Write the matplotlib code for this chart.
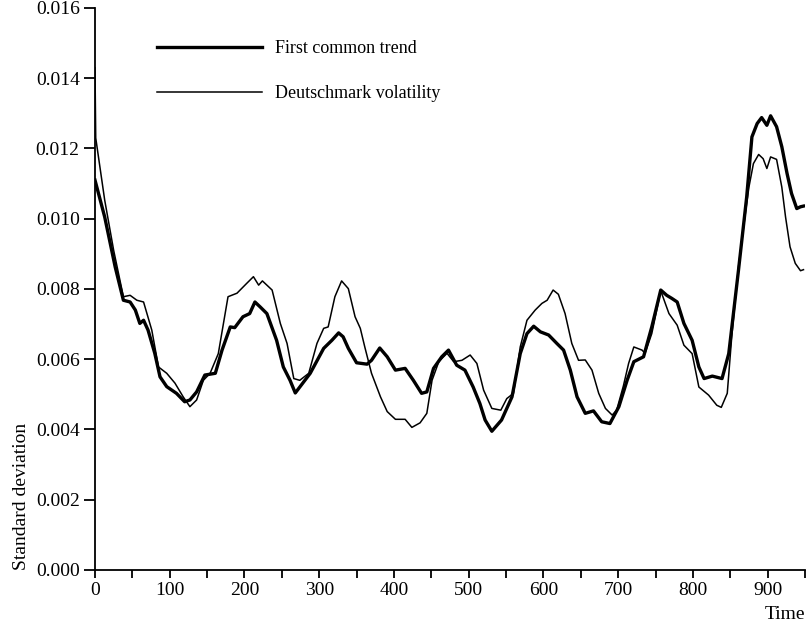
import matplotlib.pyplot as plt
import numpy as np

plt.rcParams['font.family'] = ['Liberation Serif', 'DejaVu Serif']

# First common trend (heavy line)
trend_t = [0, 13, 27, 38, 47, 54, 60, 65, 71, 80, 87, 96, 109, 120, 127, 136, 147, 161,
           170, 181, 187, 198, 207, 214, 221, 230, 243, 252, 261, 268, 288, 306, 317,
           326, 332, 339, 350, 364, 370, 381, 391, 402, 415, 426, 437, 444, 453, 464,
           473, 484, 495, 506, 515, 522, 531, 544, 558, 569, 578, 587, 596, 607, 618,
           627, 636, 645, 656, 667, 678, 689, 701, 712, 721, 734, 745, 757, 765, 772,
           779, 788, 799, 808, 815, 826, 839, 848, 861, 872, 879, 886, 892, 899, 904,
           912, 919, 926, 932, 939, 944, 948]
trend_v = [0.0111, 0.01005, 0.00863, 0.00768, 0.00763, 0.0074, 0.00702, 0.00711, 0.00683,
           0.00617, 0.0055, 0.00522, 0.00503, 0.00479, 0.00484, 0.00507, 0.00555, 0.0056,
           0.00626, 0.00692, 0.0069, 0.00721, 0.0073, 0.00763, 0.00749, 0.0073, 0.00654,
           0.00578, 0.0054, 0.00504, 0.0056, 0.00631, 0.00654, 0.00675, 0.00664, 0.00631,
           0.0059, 0.00586, 0.00597, 0.00632, 0.00607, 0.00569, 0.00574, 0.0054, 0.00503,
           0.00507, 0.00574, 0.00607, 0.00626, 0.00583, 0.00569, 0.00521, 0.00474,
           0.00427, 0.00395, 0.00427, 0.00493, 0.00616, 0.00673, 0.00694, 0.00678,
           0.00669, 0.00645, 0.00626, 0.00569, 0.00493, 0.00446, 0.00453, 0.00422,
           0.00417, 0.00465, 0.0054, 0.00593, 0.00607, 0.00692, 0.00797, 0.00782,
           0.00773, 0.00763, 0.00702, 0.00654, 0.00578, 0.00545, 0.00552, 0.00545,
           0.00616, 0.00853, 0.01062, 0.01233, 0.01271, 0.01288, 0.01266, 0.01293,
           0.01262, 0.01205, 0.01129, 0.01072, 0.01029, 0.01034, 0.01036]

# Deutschmark volatility (light line)
dm_t = [0, 1, 13, 25, 38, 47, 56, 65, 76, 85, 96, 107, 118, 127, 136, 145, 154, 165,
        178, 190, 203, 212, 219, 224, 237, 248, 257, 266, 274, 286, 297, 306, 312,
        321, 330, 339, 348, 355, 361, 370, 382, 391, 402, 415, 424, 435, 444, 451,
        460, 471, 480, 491, 502, 511, 520, 531, 543, 551, 560, 569, 578, 589, 598,
        605, 613, 620, 629, 638, 647, 656, 665, 674, 683, 692, 698, 707, 714, 721,
        732, 736, 745, 757, 768, 779, 788, 799, 808, 821, 832, 838, 846, 852, 861,
        872, 875, 881, 888, 894, 899, 904, 912, 919, 924, 930, 937, 944, 948]
dm_v = [0.0143, 0.0123, 0.01053, 0.0091, 0.00778, 0.00782, 0.00768, 0.00763, 0.00683,
        0.00578, 0.0056, 0.00532, 0.00493, 0.00465, 0.00484, 0.0054, 0.0056, 0.00616,
        0.00778, 0.00788, 0.00816, 0.00835, 0.00811, 0.00823, 0.00797, 0.00702,
        0.00645, 0.00545, 0.0054, 0.0056, 0.00645, 0.00688, 0.00692, 0.00778, 0.00823,
        0.00801, 0.00721, 0.00688, 0.00635, 0.0056, 0.00493, 0.00451, 0.00429,
        0.00429, 0.00406, 0.00419, 0.00446, 0.0054, 0.00593, 0.00617, 0.00593,
        0.00597, 0.00612, 0.00588, 0.00512, 0.0046, 0.00455, 0.00488, 0.00503,
        0.00635, 0.00711, 0.0074, 0.00759, 0.00768, 0.00797, 0.00785, 0.0073,
        0.00645, 0.00597, 0.00598, 0.00569, 0.00503, 0.0046, 0.00441, 0.00455,
        0.00524, 0.00588, 0.00635, 0.00626, 0.00617, 0.00673, 0.00795, 0.0073,
        0.00697, 0.0064, 0.00616, 0.00521, 0.00498, 0.00469, 0.00463, 0.00503,
        0.00664, 0.00863, 0.01044, 0.0109, 0.01157, 0.01183, 0.01171, 0.01143,
        0.01176, 0.01169, 0.0109, 0.01005, 0.0092, 0.00873, 0.00852, 0.00855]

fig = plt.figure(figsize=(8.07, 6.29), dpi=100)
ax = fig.add_axes([0.1177, 0.0938, 0.8798, 0.8935])

ax.plot(trend_t, trend_v, color='black', lw=2.4, solid_joinstyle='round',
        label='First common trend')
ax.plot(dm_t, dm_v, color='black', lw=1.1, solid_joinstyle='round',
        label='Deutschmark volatility')

ax.set_xlim(0, 950)
ax.set_ylim(0, 0.016)
ax.set_xticks(np.arange(0, 901, 100))
ax.set_xticks(np.arange(50, 951, 100), minor=True)
ax.set_yticks(np.arange(0, 0.0161, 0.002))
ax.set_yticklabels(['%.3f' % v for v in np.arange(0, 0.0161, 0.002)])

for s in ['top', 'right']:
    ax.spines[s].set_visible(False)
for s in ['left', 'bottom']:
    ax.spines[s].set_linewidth(1.3)

ax.tick_params(axis='y', which='both', direction='out', length=8, width=1.3,
               labelsize=14, pad=3)
ax.tick_params(axis='x', which='both', direction='out', length=6, width=1.3,
               labelsize=14, pad=3)

ax.set_xlabel('Time', loc='right', fontsize=14, labelpad=5)
ax.set_ylabel('Standard deviation', loc='bottom', fontsize=14, labelpad=4)

ax.legend(loc='upper left', bbox_to_anchor=(0.088, 0.943), frameon=False,
          fontsize=13, handlelength=5.8, handletextpad=0.7, labelspacing=1.55,
          borderpad=0, borderaxespad=0)

plt.savefig('out.png', dpi=100)
